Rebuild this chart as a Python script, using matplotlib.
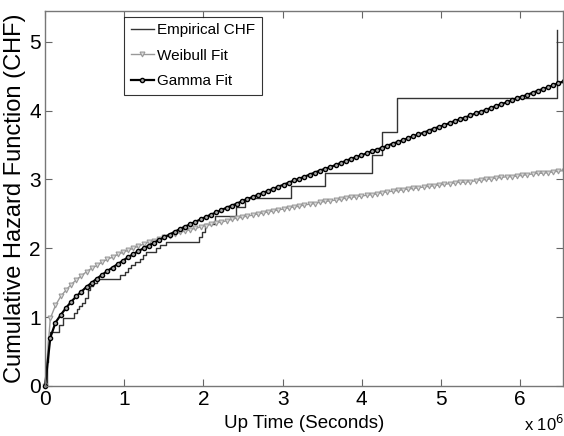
import numpy as np
import matplotlib
matplotlib.use('Agg')
import matplotlib.pyplot as plt
from matplotlib import font_manager

# Fonts: narrow Arial-like look if available
names = {f.name for f in font_manager.fontManager.ttflist}
NARROW = 'Liberation Sans Narrow' if 'Liberation Sans Narrow' in names else 'Liberation Sans'
plt.rcParams['font.family'] = [NARROW, 'DejaVu Sans']

# Empirical CHF (step function), time in units of 1e6 s
emp_t = [0, 0.02, 0.04, 0.06, 0.17, 0.23, 0.36, 0.40, 0.43, 0.46, 0.50, 0.54, 0.57,
         0.61, 0.65, 0.95, 1.01, 1.05, 1.09, 1.14, 1.20, 1.24, 1.28, 1.40, 1.45, 1.53,
         1.94, 1.98, 2.02, 2.14, 2.41, 2.53, 3.11, 3.54, 4.13, 4.25, 4.45, 6.47]
emp_h = [0, 0.35, 0.66, 0.78, 0.88, 0.99, 1.06, 1.11, 1.16, 1.20, 1.27, 1.39, 1.45,
         1.50, 1.56, 1.61, 1.66, 1.71, 1.75, 1.80, 1.85, 1.90, 1.95, 2.01, 2.05, 2.09,
         2.16, 2.23, 2.35, 2.47, 2.60, 2.73, 2.91, 3.10, 3.36, 3.69, 4.18, 5.17]

# fitted curves, evaluated on an even time grid
fit_t = np.linspace(0, 6.55, 101)
weibull_h = [0, 0.98, 1.17, 1.30, 1.39, 1.47, 1.54, 1.60, 1.66, 1.71,
             1.75, 1.80, 1.84, 1.87, 1.91, 1.94, 1.97, 2.00, 2.03, 2.06,
             2.09, 2.11, 2.14, 2.16, 2.18, 2.21, 2.23, 2.25, 2.27, 2.29,
             2.31, 2.33, 2.35, 2.37, 2.38, 2.40, 2.42, 2.44, 2.45, 2.47,
             2.48, 2.50, 2.51, 2.53, 2.54, 2.56, 2.57, 2.59, 2.60, 2.61,
             2.63, 2.64, 2.65, 2.67, 2.68, 2.69, 2.70, 2.71, 2.73, 2.74,
             2.75, 2.76, 2.77, 2.78, 2.79, 2.81, 2.82, 2.83, 2.84, 2.85,
             2.86, 2.87, 2.88, 2.89, 2.90, 2.91, 2.92, 2.93, 2.94, 2.95,
             2.96, 2.96, 2.97, 2.98, 2.99, 3.00, 3.01, 3.02, 3.03, 3.04,
             3.04, 3.05, 3.06, 3.07, 3.08, 3.09, 3.09, 3.10, 3.11, 3.12,
             3.13]
gamma_h = [0, 0.70, 0.92, 1.03, 1.13, 1.22, 1.30, 1.37, 1.44, 1.50,
           1.56, 1.615, 1.67, 1.72, 1.77, 1.82, 1.87, 1.915, 1.96, 2.00,
           2.04, 2.08, 2.12, 2.16, 2.20, 2.24, 2.28, 2.315, 2.35, 2.385,
           2.42, 2.455, 2.49, 2.52, 2.555, 2.59, 2.62, 2.65, 2.685, 2.715,
           2.745, 2.775, 2.805, 2.835, 2.865, 2.895, 2.925, 2.955, 2.985, 3.01,
           3.04, 3.07, 3.10, 3.13, 3.155, 3.18, 3.21, 3.24, 3.27, 3.30,
           3.325, 3.35, 3.38, 3.41, 3.435, 3.46, 3.49, 3.52, 3.545, 3.57,
           3.60, 3.63, 3.655, 3.68, 3.71, 3.74, 3.765, 3.79, 3.82, 3.85,
           3.875, 3.90, 3.93, 3.96, 3.985, 4.01, 4.04, 4.07, 4.095, 4.12,
           4.15, 4.18, 4.205, 4.23, 4.26, 4.29, 4.315, 4.34, 4.37, 4.40,
           4.425]

fig = plt.figure(figsize=(5.64, 4.36), dpi=100)
ax = fig.add_axes([0.080, 0.115, 0.918, 0.860])

ax.step(emp_t, emp_h, where='post', color='#333333', lw=1.0, label='Empirical CHF')
ax.plot(fit_t, weibull_h, color='#999999', lw=1.0, marker='v', ms=3.5,
        mfc='#dddddd', mec='#999999', mew=0.8, label='Weibull Fit', clip_on=False)
ax.plot(fit_t, gamma_h, color='black', lw=1.6, marker='o', ms=3.0,
        mfc='#aaaaaa', mec='black', mew=1.0, label='Gamma Fit', clip_on=False)

ax.set_xlim(0, 6.54)
ax.set_ylim(0, 5.45)
ax.set_xticks(range(7))
ax.set_yticks(range(6))
ax.tick_params(direction='in', length=5, width=0.8, top=True, right=True,
               labelsize=15, colors='#666666', labelcolor='black', pad=3)
for s in ax.spines.values():
    s.set_color('#777777')
    s.set_linewidth(1.0)

ax.set_xlabel('Up Time (Seconds)', fontsize=13.5, labelpad=4)
ax.set_ylabel('Cumulative Hazard Function (CHF)', fontsize=17,
              family=['Liberation Sans', 'DejaVu Sans'], labelpad=2)
fig.text(0.965, 0.004, r'x 10$^{6}$', fontsize=12, ha='center', va='bottom')

leg = ax.legend(loc='upper left', bbox_to_anchor=(0.1525, 0.985), fontsize=11,
                frameon=True, fancybox=False, edgecolor='black', handlelength=1.5,
                handletextpad=0.2, borderpad=0.45, labelspacing=0.74, borderaxespad=0)
leg.get_frame().set_linewidth(0.8)

fig.savefig('out.png', dpi=100)
